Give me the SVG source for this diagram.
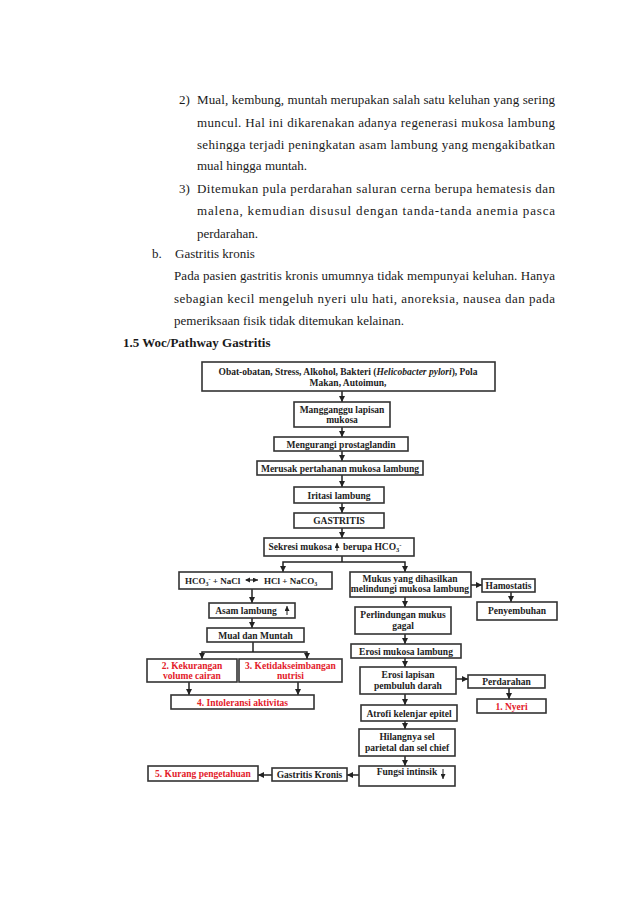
<svg xmlns="http://www.w3.org/2000/svg" width="638" height="903" viewBox="0 0 638 903">
<style>
.bt{font-family:"Liberation Serif","Times New Roman",serif;font-size:13px;fill:#1a1a1a}
.bh{font-family:"Liberation Serif","Times New Roman",serif;font-size:13px;font-weight:bold;fill:#1a1a1a}
.bx{fill:#fff;stroke:#333;stroke-width:1.6}
.t{font-family:"Liberation Serif","Times New Roman",serif;font-size:9.5px;font-weight:bold;fill:#222;text-anchor:middle}
.r{fill:#e3202a}
.c{fill:none;stroke:#222;stroke-width:1.5}
.ca{fill:none;stroke:#222;stroke-width:1.5;marker-end:url(#ah)}
</style>
<defs>
<marker id="ah" markerUnits="userSpaceOnUse" markerWidth="6" markerHeight="6" refX="6" refY="3" orient="auto">
<path d="M0,0 L6,3 L0,6 z" fill="#222"/>
</marker>
<marker id="as" markerUnits="userSpaceOnUse" markerWidth="5" markerHeight="5" refX="5" refY="2.5" orient="auto">
<path d="M0,0 L5,2.5 L0,5 z" fill="#222"/>
</marker>
</defs>
<rect width="638" height="903" fill="#fff"/>

<g id="body-text">
<text class="bt" x="179" y="104">2)</text>
<text class="bt" x="197" y="104" textLength="358" lengthAdjust="spacing">Mual, kembung, muntah merupakan salah satu keluhan yang sering</text>
<text class="bt" x="197" y="127" textLength="358" lengthAdjust="spacing">muncul. Hal ini dikarenakan adanya regenerasi mukosa lambung</text>
<text class="bt" x="197" y="149" textLength="358" lengthAdjust="spacing">sehingga terjadi peningkatan asam lambung yang mengakibatkan</text>
<text class="bt" x="197" y="170">mual hingga muntah.</text>
<text class="bt" x="179" y="193">3)</text>
<text class="bt" x="197" y="193" textLength="358" lengthAdjust="spacing">Ditemukan pula perdarahan saluran cerna berupa hematesis dan</text>
<text class="bt" x="197" y="215" textLength="358" lengthAdjust="spacing">malena, kemudian disusul dengan tanda-tanda anemia pasca</text>
<text class="bt" x="197" y="238">perdarahan.</text>
<text class="bt" x="152" y="258">b.</text>
<text class="bt" x="175" y="258">Gastritis kronis</text>
<text class="bt" x="174" y="280" textLength="381" lengthAdjust="spacing">Pada pasien gastritis kronis umumnya tidak mempunyai keluhan. Hanya</text>
<text class="bt" x="174" y="303" textLength="381" lengthAdjust="spacing">sebagian kecil mengeluh nyeri ulu hati, anoreksia, nausea dan pada</text>
<text class="bt" x="174" y="325">pemeriksaan fisik tidak ditemukan kelainan.</text>
<text class="bh" x="123" y="347">1.5 Woc/Pathway Gastritis</text>
</g>

<g id="connectors">
<line class="ca" x1="342" y1="391" x2="342" y2="402"/>
<line class="ca" x1="342" y1="427" x2="342" y2="437"/>
<line class="ca" x1="342" y1="451" x2="342" y2="461"/>
<line class="ca" x1="342" y1="475" x2="342" y2="487"/>
<line class="ca" x1="342" y1="503" x2="342" y2="513"/>
<line class="ca" x1="342" y1="528" x2="342" y2="538"/>
<polyline class="c" points="342,556 342,562"/>
<polyline class="ca" points="342,562 283,562 283,572"/>
<polyline class="ca" points="342,562 405,562 405,572"/>
<line class="ca" x1="252" y1="589" x2="252" y2="603"/>
<line class="ca" x1="252" y1="618" x2="252" y2="628"/>
<polyline class="c" points="253,642 253,652"/>
<polyline class="ca" points="253,652 202,652 202,659"/>
<polyline class="ca" points="253,652 307,652 307,659"/>
<line class="ca" x1="189" y1="682" x2="189" y2="695"/>
<line class="ca" x1="298" y1="682" x2="298" y2="695"/>
<line class="ca" x1="405" y1="597" x2="405" y2="607"/>
<line class="ca" x1="405" y1="634" x2="405" y2="644"/>
<line class="ca" x1="405" y1="658" x2="405" y2="667"/>
<line class="ca" x1="405" y1="694" x2="405" y2="705"/>
<line class="ca" x1="405" y1="721" x2="405" y2="729"/>
<line class="ca" x1="405" y1="756" x2="405" y2="766"/>
<line class="ca" x1="471" y1="585" x2="482" y2="585"/>
<line class="ca" x1="511" y1="592" x2="511" y2="602"/>
<line class="ca" x1="456" y1="679" x2="468" y2="679"/>
<line class="ca" x1="509" y1="688" x2="509" y2="699"/>
<line class="ca" x1="359" y1="775" x2="347" y2="775"/>
<line class="ca" x1="272" y1="775" x2="258" y2="775"/>
</g>

<g id="n-penyebab">
<rect class="bx" x="202" y="362" width="293" height="29"/>
<text class="t" x="348" y="375">Obat-obatan, Stress, Alkohol, Bakteri (<tspan font-style="italic">Helicobacter pylori</tspan>), Pola</text>
<text class="t" x="348" y="386">Makan, Autoimun,</text>
</g>
<g id="n-mangganggu">
<rect class="bx" x="294" y="402" width="96" height="25"/>
<text class="t" x="342" y="413">Mangganggu lapisan</text>
<text class="t" x="342" y="423">mukosa</text>
</g>
<g id="n-mengurangi">
<rect class="bx" x="274" y="437" width="134" height="14"/>
<text class="t" x="341" y="447.5">Mengurangi prostaglandin</text>
</g>
<g id="n-merusak">
<rect class="bx" x="257" y="461" width="166" height="14"/>
<text class="t" x="340" y="471.5">Merusak pertahanan mukosa lambung</text>
</g>
<g id="n-iritasi">
<rect class="bx" x="294" y="487" width="90" height="16"/>
<text class="t" x="339" y="498.5">Iritasi lambung</text>
</g>
<g id="n-gastritis">
<rect class="bx" x="294" y="513" width="90" height="15"/>
<text class="t" x="339" y="524">GASTRITIS</text>
</g>
<g id="n-sekresi">
<rect class="bx" x="264" y="538" width="150" height="18"/>
<text class="t" x="332" y="550" style="text-anchor:end">Sekresi mukosa</text>
<line x1="337" y1="551" x2="337" y2="543" stroke="#222" stroke-width="1" marker-end="url(#as)"/>
<text class="t" x="343" y="550" style="text-anchor:start">berupa HCO<tspan font-size="6.5" dy="2">3</tspan><tspan font-size="6.5" dy="-5">-</tspan></text>
</g>
<g id="n-hco3">
<rect class="bx" x="179" y="572" width="153" height="17"/>
<text class="t" x="185" y="583.5" style="text-anchor:start;font-size:9px">HCO<tspan font-size="6" dy="2">3</tspan><tspan font-size="6" dy="-5">-</tspan><tspan dy="3"> + NaCl</tspan></text>
<line x1="246" y1="580" x2="258" y2="580" stroke="#222" stroke-width="1.2" marker-end="url(#as)"/>
<path d="M245,580 l5,-2.5 v5 z" fill="#222"/>
<text class="t" x="264" y="583.5" style="text-anchor:start;font-size:9px">HCl  + NaCO<tspan font-size="6" dy="2">3</tspan></text>
</g>
<g id="n-mukus">
<rect class="bx" x="350" y="572" width="121" height="25"/>
<text class="t" x="410" y="582">Mukus yang dihasilkan</text>
<text class="t" x="410" y="592">melindungi mukosa lambung</text>
</g>
<g id="n-hamostatis">
<rect class="bx" x="482" y="579" width="53" height="13"/>
<text class="t" x="508.5" y="588.5">Hamostatis</text>
</g>
<g id="n-penyembuhan">
<rect class="bx" x="477" y="602" width="80" height="18"/>
<text class="t" x="517" y="614">Penyembuhan</text>
</g>
<g id="n-asam">
<rect class="bx" x="209" y="603" width="86" height="15"/>
<text class="t" x="246" y="614">Asam lambung</text>
<line x1="287" y1="615" x2="287" y2="606" stroke="#222" stroke-width="1" marker-end="url(#as)"/>
</g>
<g id="n-mual">
<rect class="bx" x="207" y="628" width="97" height="14"/>
<text class="t" x="255.5" y="638.5">Mual dan Muntah</text>
</g>
<g id="n-perlindungan">
<rect class="bx" x="355" y="607" width="96" height="27"/>
<text class="t" x="403" y="618">Perlindungan mukus</text>
<text class="t" x="403" y="629">gagal</text>
</g>
<g id="n-erosi-mukosa">
<rect class="bx" x="351" y="644" width="110" height="14"/>
<text class="t" x="406" y="654.5">Erosi mukosa lambung</text>
</g>
<g id="n-kekurangan">
<rect class="bx" x="147" y="659" width="90" height="23"/>
<text class="t r" x="192" y="669">2. Kekurangan</text>
<text class="t r" x="192" y="679">volume cairan</text>
</g>
<g id="n-ketidakseimbangan">
<rect class="bx" x="239" y="659" width="103" height="23"/>
<text class="t r" x="290.5" y="669">3. Ketidakseimbangan</text>
<text class="t r" x="290.5" y="679">nutrisi</text>
</g>
<g id="n-intoleransi">
<rect class="bx" x="171" y="695" width="143" height="14"/>
<text class="t r" x="242.5" y="705.5">4. Intoleransi aktivitas</text>
</g>
<g id="n-erosi-lapisan">
<rect class="bx" x="360" y="667" width="96" height="27"/>
<text class="t" x="408" y="678">Erosi lapisan</text>
<text class="t" x="408" y="689">pembuluh darah</text>
</g>
<g id="n-perdarahan">
<rect class="bx" x="468" y="675" width="77" height="13"/>
<text class="t" x="506.5" y="684.5">Perdarahan</text>
</g>
<g id="n-nyeri">
<rect class="bx" x="477" y="699" width="69" height="14"/>
<text class="t r" x="511.5" y="709.5">1. Nyeri</text>
</g>
<g id="n-atrofi">
<rect class="bx" x="361" y="705" width="96" height="16"/>
<text class="t" x="409" y="716.5">Atrofi kelenjar epitel</text>
</g>
<g id="n-hilangnya">
<rect class="bx" x="359" y="729" width="96" height="27"/>
<text class="t" x="407" y="740">Hilangnya sel</text>
<text class="t" x="407" y="751">parietal dan sel chief</text>
</g>
<g id="n-fungsi">
<rect class="bx" x="359" y="766" width="96" height="20"/>
<text class="t" x="407" y="775">Fungsi intinsik</text>
<line x1="443" y1="769" x2="443" y2="779" stroke="#222" stroke-width="1" marker-end="url(#as)"/>
</g>
<g id="n-gastritis-kronis">
<rect class="bx" x="272" y="768" width="75" height="13"/>
<text class="t" x="309.5" y="777.5">Gastritis Kronis</text>
</g>
<g id="n-kurang">
<rect class="bx" x="148" y="766" width="110" height="15"/>
<text class="t r" x="203" y="777">5. Kurang pengetahuan</text>
</g>
</svg>
